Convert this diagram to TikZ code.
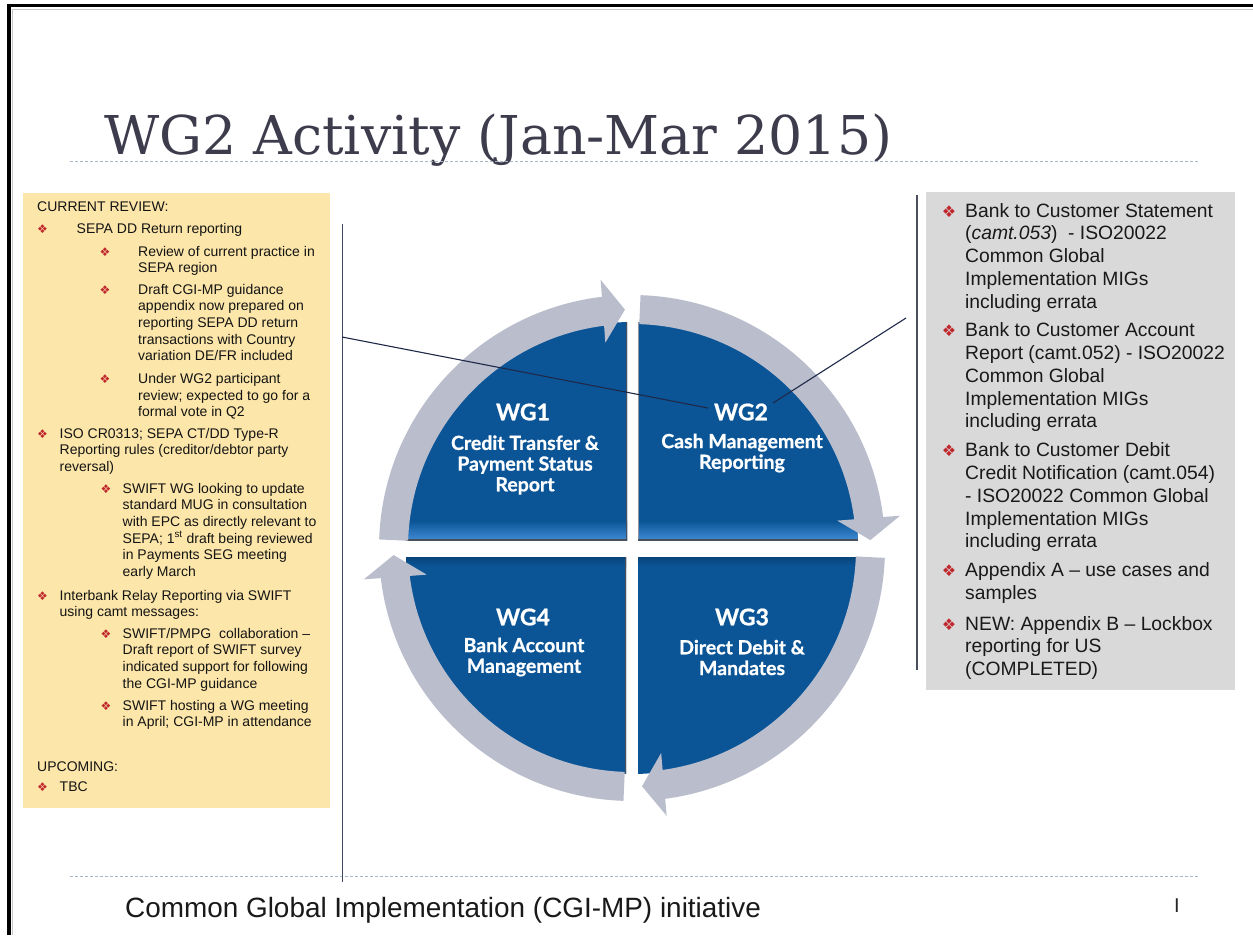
\documentclass[tikz,border=0pt]{standalone}
\usepackage{fontspec}
\usepackage{graphicx}
\setmainfont{Liberation Sans}
\newfontfamily\symfont{DejaVu Sans}
\newfontfamily\titlefont{DejaVu Serif}
\newfontfamily\gillfont{Lato}[FakeBold=0.8]
\usetikzlibrary{arrows.meta,bending}
\definecolor{qblue}{HTML}{0B5597}
\definecolor{qlight}{HTML}{3F8AD4}
\definecolor{qedge}{HTML}{4A4F5C}
\definecolor{ringgray}{HTML}{B9BDCC}
\definecolor{paneyellow}{HTML}{FCE6A9}
\definecolor{panegray}{HTML}{D9D9D9}
\definecolor{bulletred}{HTML}{C0272D}
\definecolor{titlegray}{HTML}{3C3C4C}
\definecolor{dashblue}{HTML}{A7B6C6}
\definecolor{linknavy}{HTML}{1E2848}
\tikzset{
  x=1pt, y=1pt,
  ringtip/.tip={Triangle[length=22pt,width=62pt,flex]},
  ring/.style={draw=ringgray, line width=29pt, -ringtip},
  ltxt/.style={anchor=base west, inner sep=0pt, align=left, font=\fontsize{14}{16.7}\selectfont, text=black!92},
  lbul/.style={anchor=base, inner sep=0pt, font=\symfont\fontsize{12}{12}\selectfont, text=bulletred},
  rtxt/.style={anchor=base west, inner sep=0pt, align=left, font=\fontsize{19.3}{22.8}\selectfont, text=black!90},
  rbul/.style={anchor=base, inner sep=0pt, font=\symfont\fontsize{16}{16}\selectfont, text=bulletred},
  qhead/.style={text=white, font=\gillfont\bfseries\fontsize{23}{25}\selectfont, inner sep=0pt, anchor=center},
  qdesc/.style={text=white, font=\gillfont\bfseries\fontsize{19.5}{20.7}\selectfont, align=center, inner sep=0pt, anchor=center},
  dashline/.style={draw=dashblue, line width=1pt, dash pattern=on 3pt off 2pt},
  vline/.style={draw=linknavy!85, line width=1pt},
  link/.style={draw=linknavy, line width=1.1pt},
  edgeline/.style={draw=qedge, line width=1.6pt}
}
\begin{document}
\begin{tikzpicture}
\useasboundingbox (0,0) rectangle (1253,-935);
\fill[white] (0,0) rectangle (1253,-935);
% frame
\draw[gray!45, line width=1pt] (12,-935) -- (12,-9) -- (1253,-9);
\draw[black, line width=3.6pt] (9,-935) -- (9,-5.5) -- (1253,-5.5);
% title
\node[anchor=base west, inner sep=0pt, text=titlegray, font=\titlefont\fontsize{53.5}{60}\selectfont] (title) at (104,-154) {\resizebox{788pt}{\height}{WG2 Activity (Jan-Mar 2015)}};
\draw[dashline] (70,-161.5) -- (1200,-161.5);
\draw[dashline] (70,-876) -- (1200,-876);
% footer
\node[anchor=base west, inner sep=0pt, font=\fontsize{27.9}{30}\selectfont, text=black!90] (foot) at (125,-917) {Common Global Implementation (CGI-MP) initiative};
\node[anchor=base west, inner sep=0pt, font=\fontsize{20}{24}\selectfont, text=black!85] (pg) at (1174,-912) {I};

% left panel (base anchor = baseline of the last line)
\fill[paneyellow] (23,-193) rectangle (330,-808);
\node[ltxt] (cr) at (37,-211.5) {CURRENT REVIEW:};
\node[lbul] (b1) at (42.5,-233) {❖};
\node[ltxt] (t1) at (76.5,-233) {SEPA DD Return reporting};
\node[lbul] (b11) at (105,-256) {❖};
\node[ltxt] (t11) at (138,-272.7) {Review of current practice in\\SEPA region};
\node[lbul] (b12) at (105,-294) {❖};
\node[ltxt] (t12) at (138,-360.8) {Draft CGI-MP guidance\\appendix now prepared on\\reporting SEPA DD return\\transactions with Country\\variation DE/FR included};
\node[lbul] (b13) at (105,-383.5) {❖};
\node[ltxt] (t13) at (138,-416.9) {Under WG2 participant\\review; expected to go for a\\formal vote in Q2};
\node[lbul] (b2) at (42.5,-438) {❖};
\node[ltxt] (t2) at (59.5,-471.4) {ISO CR0313; SEPA CT/DD Type-R\\Reporting rules (creditor/debtor party\\reversal)};
\node[lbul] (b21) at (106,-493) {❖};
\node[ltxt] (t21) at (122.5,-576.5) {SWIFT WG looking to update\\standard MUG in consultation\\with EPC as directly relevant to\\SEPA; 1\textsuperscript{st} draft being reviewed\\in Payments SEG meeting\\early March};
\node[lbul] (b3) at (42.5,-600) {❖};
\node[ltxt] (t3) at (59.5,-616.7) {Interbank Relay Reporting via SWIFT\\using camt messages:};
\node[lbul] (b31) at (106,-638) {❖};
\node[ltxt] (t31) at (122.5,-688.1) {SWIFT/PMPG\ \ collaboration –\\Draft report of SWIFT survey\\indicated support for following\\the CGI-MP guidance};
\node[lbul] (b32) at (106,-710) {❖};
\node[ltxt] (t32) at (122.5,-726.7) {SWIFT hosting a WG meeting\\in April; CGI-MP in attendance};
\node[ltxt] (up) at (37,-771.5) {UPCOMING:};
\node[lbul] (b4) at (42.5,-791.5) {❖};
\node[ltxt] (t4) at (59.5,-791.5) {TBC};

% right panel
\fill[panegray] (926,-192) rectangle (1235,-690);
\node[rbul] (r1b) at (949,-217) {❖};
\node[rtxt] (r1) at (965,-308.2) {Bank to Customer Statement\\(\textit{camt.053})\ \ - ISO20022\\Common Global\\Implementation MIGs\\including errata};
\node[rbul] (r2b) at (949,-336.7) {❖};
\node[rtxt] (r2) at (965,-427.9) {Bank to Customer Account\\Report (camt.052) - ISO20022\\Common Global\\Implementation MIGs\\including errata};
\node[rbul] (r3b) at (949,-456.7) {❖};
\node[rtxt] (r3) at (965,-547.9) {Bank to Customer Debit\\Credit Notification (camt.054)\\- ISO20022 Common Global\\Implementation MIGs\\including errata};
\node[rbul] (r4b) at (949,-576.7) {❖};
\node[rtxt] (r4) at (965,-599.5) {Appendix A – use cases and\\samples};
\node[rbul] (r5b) at (949,-630) {❖};
\node[rtxt] (r5) at (965,-675.6) {NEW: Appendix B – Lockbox\\reporting for US\\(COMPLETED)};

% vertical lines
\coordinate (vl1) at (342,-224);
\coordinate (vl2) at (342,-882);
\draw[vline] (vl1) -- (vl2);
\coordinate (vr1) at (917,-195);
\coordinate (vr2) at (917,-670);
\draw[vline, line width=1.6pt, draw=qedge] (vr1) -- (vr2);

% quadrants
\coordinate (C) at (632,-548);
\begin{scope}
  \clip (380,-280) rectangle (627,-540);
  \clip (C) circle (226);
  \fill[qblue] (C) circle (226);
  \shade[top color=qblue, bottom color=qlight] (380,-521) rectangle (627,-540);
  \draw[edgeline] (627,-280) -- (627,-540) -- (380,-540);
\end{scope}
\begin{scope}
  \clip (638,-280) rectangle (890,-540);
  \clip (C) circle (226);
  \fill[qblue] (C) circle (226);
  \shade[top color=qblue, bottom color=qlight] (638,-521) rectangle (890,-540);
  \draw[edgeline, draw=qedge!60] (638,-280) -- (638,-540);
  \draw[edgeline] (638,-540) -- (890,-540);
\end{scope}
\begin{scope}
  \clip (638,-557) rectangle (890,-810);
  \clip (C) circle (226);
  \fill[qblue] (C) circle (226);
  \shade[top color=qblue!80!black, bottom color=qblue] (638,-557) rectangle (890,-566);
\end{scope}
\begin{scope}
  \clip (370,-557) rectangle (626,-810);
  \clip (C) circle (226);
  \fill[qblue] (C) circle (226);
  \shade[top color=qblue!80!black, bottom color=qblue] (370,-557) rectangle (626,-566);
  \draw[edgeline] (626,-557) -- (626,-810);
\end{scope}

% ring arrows
\draw[ring] (C) ++(178.1:238.5) arc[start angle=178.1, end angle=91.7, radius=238.5];
\draw[ring] (C) ++(88.1:238.5) arc[start angle=88.1, end angle=1.9, radius=238.5];
\draw[ring] (C) ++(-2.2:238.5) arc[start angle=-2.2, end angle=-87.6, radius=238.5];
\draw[ring] (C) ++(-91.9:238.5) arc[start angle=-91.9, end angle=-178.3, radius=238.5];

% quadrant labels
\node[qhead] (wg1h) at (523,-412) {WG1};
\node[qdesc] (wg1d) at (525,-465) {Credit Transfer \&\\Payment Status\\Report};
\node[qhead] (wg2h) at (741,-412) {WG2};
\node[qdesc] (wg2d) at (742,-453) {Cash Management\\Reporting};
\node[qhead] (wg4h) at (523,-617) {WG4};
\node[qdesc] (wg4d) at (524,-657) {Bank Account\\Management};
\node[qhead] (wg3h) at (742,-617) {WG3};
\node[qdesc] (wg3d) at (742,-657.5) {Direct Debit \&\\Mandates};

% connectors
\coordinate (l1a) at (342,-337);
\coordinate (l1b) at (708,-408);
\draw[link] (l1a) -- (l1b);
\coordinate (l2a) at (906,-318);
\coordinate (l2b) at (773,-403);
\draw[link] (l2a) -- (l2b);
\end{tikzpicture}
\end{document}
